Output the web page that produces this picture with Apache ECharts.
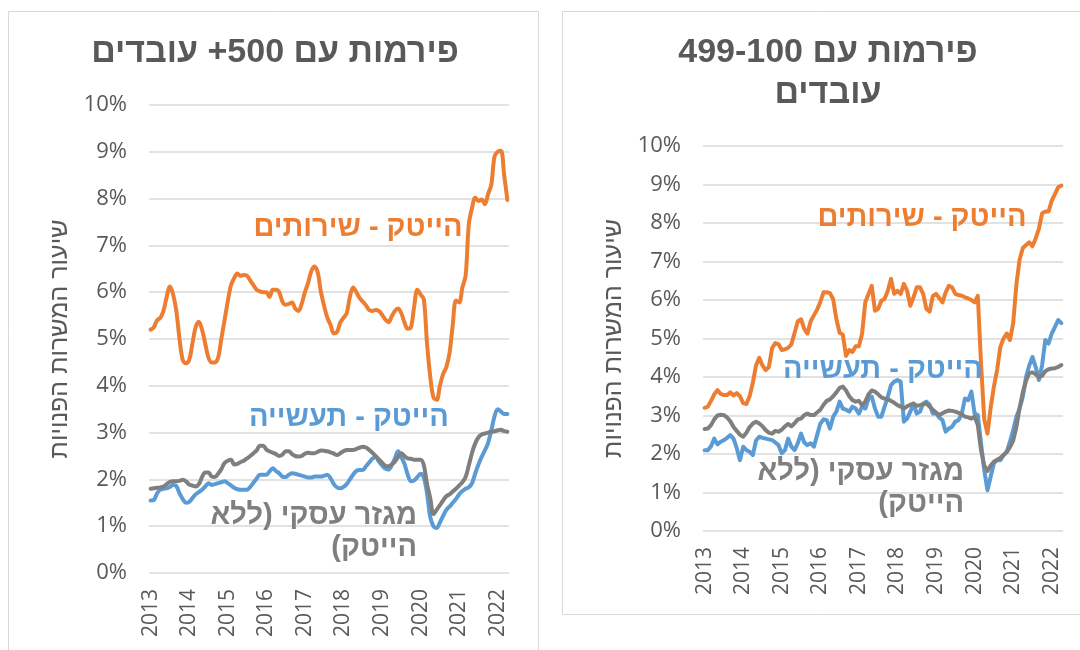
<!DOCTYPE html>
<html>
<head>
<meta charset="utf-8">
<script src="https://cdn.jsdelivr.net/npm/echarts@6/dist/echarts.min.js"></script>
<style>
  html, body { margin: 0; padding: 0; background: #fff; }
  #chart { width: 1080px; height: 650px; }
</style>
</head>
<body>
<div id="chart" dir="rtl"></div>
<script>
// monthly data, Jan 2013 - Apr 2022, job vacancy rate (%)
var firstYear = 2013;
var yearTicks = ['2013', '2014', '2015', '2016', '2017', '2018', '2019', '2020', '2021', '2022'];

// firms with 500+ employees
var big500Services = [5.2,5.25,5.4,5.45,5.6,5.9,6.12,5.95,5.6,5.0,
  4.55,4.48,4.55,4.9,5.25,5.37,5.2,4.9,4.6,4.5,
  4.5,4.6,5.0,5.4,5.8,6.15,6.3,6.4,6.35,6.37,
  6.35,6.25,6.15,6.05,6.02,6.0,6.0,5.9,6.05,6.05,
  6.0,5.8,5.73,5.75,5.78,5.65,5.6,5.75,6.0,6.2,
  6.45,6.55,6.42,6.0,5.7,5.45,5.3,5.12,5.15,5.35,
  5.45,5.55,5.9,6.1,6.0,5.88,5.8,5.72,5.62,5.6,
  5.62,5.6,5.52,5.42,5.36,5.48,5.6,5.65,5.55,5.35,
  5.22,5.25,5.7,6.05,5.95,5.85,4.9,4.2,3.75,3.7,
  4.0,4.25,4.4,4.7,5.3,5.82,5.78,6.1,6.35,7.45,
  7.8,8.02,7.95,7.98,7.88,8.1,8.3,8.9,9.0,9.02,
  8.5,7.97];
var big500Manufacturing = [1.55,1.56,1.7,1.78,1.8,1.81,1.84,1.88,1.86,1.7,
  1.58,1.5,1.52,1.6,1.68,1.73,1.78,1.85,1.92,1.88,
  1.9,1.92,1.94,1.96,1.92,1.87,1.82,1.79,1.78,1.78,
  1.78,1.84,1.93,2.02,2.1,2.1,2.1,2.17,2.24,2.18,
  2.13,2.06,2.05,2.1,2.13,2.12,2.1,2.08,2.06,2.04,
  2.04,2.06,2.06,2.06,2.08,2.1,2.02,1.9,1.83,1.81,
  1.84,1.9,2.0,2.1,2.18,2.2,2.2,2.28,2.36,2.44,
  2.48,2.38,2.3,2.23,2.21,2.3,2.45,2.6,2.48,2.33,
  2.1,1.96,1.98,2.05,2.12,2.04,1.7,1.2,1.0,0.96,
  1.08,1.22,1.35,1.42,1.5,1.58,1.68,1.75,1.8,1.83,
  1.92,2.13,2.32,2.48,2.62,2.78,3.05,3.35,3.5,3.45,
  3.4,3.4];
var big500Business = [1.8,1.81,1.82,1.83,1.85,1.9,1.95,1.96,1.96,1.97,
  1.99,1.96,1.89,1.87,1.85,1.9,2.05,2.15,2.15,2.06,
  2.05,2.12,2.22,2.35,2.4,2.42,2.32,2.33,2.37,2.4,
  2.45,2.5,2.56,2.62,2.72,2.72,2.64,2.6,2.57,2.54,
  2.5,2.53,2.6,2.6,2.54,2.5,2.49,2.5,2.55,2.57,
  2.56,2.56,2.59,2.62,2.61,2.6,2.58,2.55,2.52,2.56,
  2.6,2.63,2.63,2.63,2.65,2.68,2.7,2.68,2.63,2.57,
  2.5,2.43,2.36,2.29,2.28,2.32,2.38,2.48,2.56,2.5,
  2.45,2.44,2.42,2.42,2.42,2.3,1.9,1.6,1.26,1.35,
  1.45,1.55,1.64,1.68,1.74,1.8,1.87,1.94,2.05,2.3,
  2.57,2.77,2.9,2.96,2.98,3.0,3.02,3.03,3.05,3.06,
  3.03,3.02];

// firms with 100-499 employees
var mid100Services = [3.2,3.23,3.38,3.55,3.66,3.56,3.53,3.53,3.6,3.52,
  3.58,3.5,3.32,3.3,3.5,3.85,4.3,4.5,4.3,4.18,
  4.26,4.75,4.88,4.85,4.7,4.72,4.76,4.85,5.15,5.45,
  5.5,5.25,5.13,5.45,5.6,5.75,5.95,6.2,6.2,6.18,
  6.02,5.5,5.15,5.1,4.55,4.7,4.65,4.8,4.8,5.13,
  5.94,6.16,6.37,5.72,5.77,5.98,6.03,6.24,6.55,6.16,
  6.24,6.16,6.42,6.24,5.85,6.07,6.33,6.33,6.16,5.77,
  5.7,6.1,6.16,6.05,5.94,6.2,6.37,6.33,6.16,6.13,
  6.11,6.07,6.04,6.0,5.94,6.11,4.35,2.9,2.53,3.2,
  3.75,4.18,4.78,5.0,5.13,4.96,5.4,6.4,7.05,7.35,
  7.43,7.5,7.4,7.6,7.85,8.25,8.3,8.3,8.58,8.75,
  8.93,8.97];
var mid100Manufacturing = [2.1,2.1,2.2,2.4,2.25,2.32,2.36,2.42,2.49,2.4,
  2.15,1.84,2.19,2.1,2.06,1.97,2.35,2.45,2.42,2.4,
  2.38,2.36,2.3,2.23,2.02,2.1,2.4,2.19,2.1,2.28,
  2.53,2.3,2.23,2.28,2.19,2.49,2.79,2.9,2.88,2.66,
  2.97,3.1,3.36,3.18,3.15,3.1,3.23,3.18,3.05,3.23,
  3.18,3.44,3.49,3.18,2.97,2.97,3.23,3.49,3.79,3.88,
  3.92,3.88,2.84,2.92,3.1,3.31,3.05,3.1,3.31,3.36,
  3.28,3.05,3.05,2.95,2.88,2.58,2.66,2.71,2.84,2.88,
  3.05,3.44,3.4,3.62,3.05,3.01,2.28,1.58,1.06,1.41,
  1.76,1.84,1.84,1.97,2.06,2.32,2.62,2.97,3.18,3.49,
  4.0,4.3,4.52,4.26,3.92,4.31,4.96,4.87,5.13,5.3,
  5.48,5.4];
var mid100Business = [2.65,2.66,2.75,2.9,3.0,3.02,3.01,2.95,2.85,2.7,
  2.6,2.5,2.45,2.55,2.7,2.79,2.84,2.79,2.72,2.62,
  2.55,2.53,2.6,2.58,2.63,2.72,2.78,2.72,2.8,2.9,
  2.92,3.01,3.05,3.01,3.01,3.08,3.15,3.28,3.38,3.42,
  3.5,3.6,3.72,3.75,3.65,3.5,3.4,3.36,3.38,3.27,
  3.36,3.55,3.65,3.62,3.55,3.47,3.44,3.42,3.38,3.33,
  3.27,3.23,3.18,3.24,3.28,3.31,3.25,3.27,3.29,3.31,
  3.23,3.15,3.08,3.01,3.06,3.1,3.13,3.12,3.1,3.07,
  3.03,2.97,2.95,2.92,2.97,2.75,2.1,1.7,1.56,1.7,
  1.8,1.85,1.9,1.97,2.05,2.18,2.35,2.7,3.2,3.6,
  3.9,4.1,4.12,4.07,4.0,4.03,4.15,4.2,4.22,4.23,
  4.26,4.31];

var months = [];
for (var i = 0; i < big500Services.length; i++) {
    var m = i % 12 + 1;
    months.push((firstYear + Math.floor(i / 12)) + '-' + (m < 10 ? '0' + m : m));
}

var textGray = '#595959';
var orange = '#ED7D31';
var blue = '#5B9BD5';
var gray = '#7F7F7F';
var hebFont = '"Liberation Sans", "DejaVu Sans", sans-serif';
var numFont = '"Open Sans", "Liberation Sans", sans-serif';

var myChart = echarts.init(document.getElementById('chart'));

function makeX(idx) {
    return {
        type: 'category', gridIndex: idx, data: months, boundaryGap: true,
        axisLine: {show: false}, axisTick: {show: false},
        axisLabel: {
            interval: function (index) { return index % 12 === 0; },
            formatter: function (val) { return yearTicks[parseInt(val, 10) - firstYear]; },
            rotate: 90, margin: 16, color: textGray, fontSize: 21, fontFamily: numFont
        }
    };
}

function makeY(idx) {
    return {
        type: 'value', gridIndex: idx, min: 0, max: 10, interval: 1,
        name: 'שיעור המשרות הפנויות', nameLocation: 'middle', nameRotate: 90, nameGap: 76,
        nameTextStyle: {color: textGray, fontSize: 25, fontFamily: hebFont},
        axisLine: {show: false}, axisTick: {show: false},
        axisLabel: {formatter: '{value}%', margin: 22, color: textGray, fontSize: 22, fontFamily: numFont},
        splitLine: {lineStyle: {color: '#D9D9D9', width: 1.5}}
    };
}

function line(idx, data, color, smooth, z) {
    return {
        type: 'line', xAxisIndex: idx, yAxisIndex: idx, data: data,
        symbol: 'none', smooth: smooth, z: z,
        lineStyle: {color: color, width: 4, cap: 'round', join: 'round'},
        itemStyle: {color: color}
    };
}

function label(x, y, text, color, align) {
    return {
        type: 'text', x: x, y: y, z: 100,
        style: {
            text: text, fill: color, align: align || 'center', verticalAlign: 'middle',
            fontSize: 29, fontWeight: 'bold', fontFamily: hebFont, lineHeight: 32
        }
    };
}

myChart.setOption({
    animation: false,
    backgroundColor: '#fff',
    grid: [
        {left: 149, top: 105, width: 360, height: 468, outerBoundsMode: 'none'},
        {left: 703, top: 146, width: 360, height: 385, outerBoundsMode: 'none'}
    ],
    xAxis: [makeX(0), makeX(1)],
    yAxis: [makeY(0), makeY(1)],
    series: [
        line(0, big500Manufacturing, blue, 0.35, 2),
        line(0, big500Services, orange, 0.35, 3),
        line(0, big500Business, gray, 0.35, 4),
        line(1, mid100Manufacturing, blue, false, 2),
        line(1, mid100Services, orange, false, 3),
        line(1, mid100Business, gray, false, 4)
    ],
    graphic: [
        {type: 'rect', shape: {x: 8.5, y: 11.5, width: 530, height: 660}, style: {fill: 'none', stroke: '#D9D9D9', lineWidth: 1}, z: -1},
        {type: 'rect', shape: {x: 562.5, y: 11.5, width: 540, height: 603}, style: {fill: 'none', stroke: '#D9D9D9', lineWidth: 1}, z: -1},
        {
            type: 'text', x: 275, y: 53,
            style: {text: 'פירמות עם 500+ עובדים', fill: textGray, align: 'center', verticalAlign: 'middle',
                fontSize: 34, fontWeight: 'bold', fontFamily: hebFont}
        },
        {
            type: 'text', x: 828, y: 73,
            style: {text: 'פירמות עם 499-100\nעובדים', fill: textGray, align: 'center', verticalAlign: 'middle',
                fontSize: 34, fontWeight: 'bold', fontFamily: hebFont, lineHeight: 41}
        },
        label(358, 228, 'הייטק - שירותים', orange),
        label(349, 418, 'הייטק - תעשייה', blue),
        label(417, 532, 'מגזר עסקי (ללא\nהייטק)', gray, 'right'),
        label(922, 218, 'הייטק - שירותים', orange),
        label(883, 370, 'הייטק - תעשייה', blue),
        label(964, 488, 'מגזר עסקי (ללא\nהייטק)', gray, 'right')
    ]
});
</script>
</body>
</html>
